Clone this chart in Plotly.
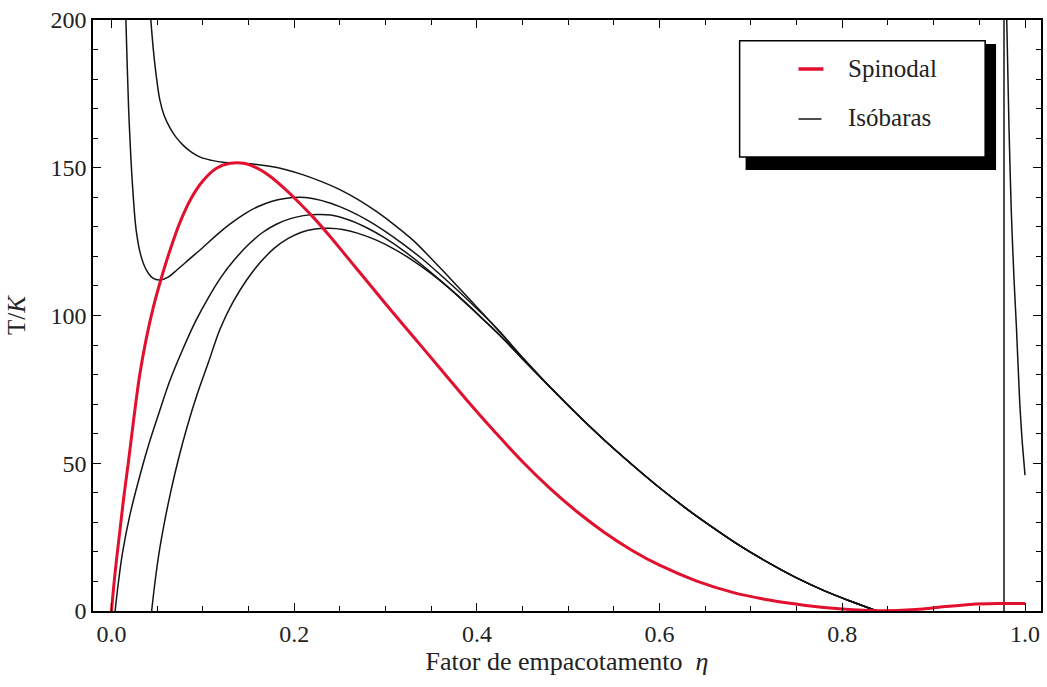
import plotly.graph_objects as go

# ---------------- data ----------------
# Spinodal curve (red)
eta_spinodal = [0.000, 0.004, 0.009, 0.0135, 0.0184, 0.024, 0.031, 0.038, 0.046, 0.054,
                0.064, 0.075, 0.087, 0.100, 0.115, 0.130, 0.145, 0.160, 0.175, 0.191,
                0.206, 0.221, 0.240, 0.260, 0.280, 0.300, 0.330, 0.360, 0.390, 0.420,
                0.450, 0.480, 0.510, 0.540, 0.570, 0.600, 0.640, 0.680, 0.720, 0.760,
                0.800, 0.840, 0.880, 0.910, 0.940, 0.970, 1.000]
T_spinodal = [0, 13, 26.5, 38.5, 50, 64, 80, 92, 103, 112,
              122, 131.5, 139.5, 145.5, 149.8, 151.5, 151.5, 149.8, 146.8, 142.5,
              138, 133.2, 126.5, 119, 111.5, 104, 93, 82, 71, 60.5,
              50.5, 41.5, 33.5, 26.5, 20.5, 15.5, 10.2, 6.3, 3.7, 1.9,
              0.7, 0.1, 0.5, 1.4, 2.2, 2.5, 2.5]

# shared tail of the isobars (curves merge for eta > ~0.48)
eta_tail = [0.48, 0.51, 0.54, 0.57, 0.60, 0.63, 0.66, 0.69, 0.72, 0.75, 0.78, 0.81, 0.838]
T_tail = [75.8, 66.5, 57.7, 49.5, 41.7, 34.5, 27.9, 21.7, 16.2, 11.2, 6.9, 3.2, 0]

# isobar A (highest, near-critical)
eta_iso_a = [0.0431, 0.0459, 0.0492, 0.0530, 0.0579, 0.0639, 0.0710, 0.0792, 0.0879, 0.0978,
             0.1098, 0.1240, 0.1404, 0.1567, 0.175, 0.190, 0.210, 0.230, 0.250, 0.270,
             0.290, 0.310, 0.330, 0.350, 0.370, 0.390, 0.410, 0.430, 0.450]
T_iso_a = [200, 189.8, 180.7, 172.9, 167.5, 163.6, 160.2, 157.4, 155.2, 153.5,
           152.5, 151.8, 151.5, 151.2, 150.4, 149.4, 147.6, 145.3, 142.6, 139.2,
           135.2, 130.6, 125.5, 119.3, 112.8, 106.2, 99.5, 92.7, 85.8]

# isobar B (loop with minimum)
eta_iso_b = [0.0158, 0.0172, 0.0188, 0.021, 0.0235, 0.027, 0.032, 0.038, 0.045, 0.053,
             0.062, 0.072, 0.085, 0.100, 0.115, 0.130, 0.148, 0.160, 0.175, 0.190,
             0.205, 0.220, 0.240, 0.260, 0.280, 0.300, 0.320, 0.340, 0.360, 0.380,
             0.400, 0.425, 0.450]
T_iso_b = [200, 185, 170, 155, 142, 129, 120.5, 115.5, 112.7, 112,
           113, 115.5, 119, 123, 127.2, 131, 134.8, 136.8, 138.6, 139.6,
           140, 139.6, 138, 135.5, 132.3, 128.4, 124, 119.2, 113.8, 108.2,
           102.3, 94.6, 85.6]

# isobar C
eta_iso_c = [0.004, 0.0075, 0.012, 0.0202, 0.030, 0.040, 0.052, 0.064, 0.078, 0.092,
             0.106, 0.120, 0.135, 0.150, 0.165, 0.180, 0.195, 0.210, 0.225, 0.240,
             0.260, 0.280, 0.300, 0.320, 0.340, 0.360, 0.380, 0.400, 0.425, 0.450]
T_iso_c = [0, 9.4, 19.5, 32.5, 44.5, 55.5, 67, 78, 88.5, 98,
           106, 113, 119, 124, 128, 130.8, 132.7, 133.8, 134.2, 134,
           132.3, 129.6, 126.1, 121.9, 117.1, 111.9, 106.4, 100.6, 93.4, 85.4]

# isobar D (lowest)
eta_iso_d = [0.044, 0.0475, 0.052, 0.058, 0.065, 0.073, 0.083, 0.094, 0.106, 0.119,
             0.133, 0.148, 0.163, 0.178, 0.193, 0.208, 0.223, 0.238, 0.253, 0.270,
             0.290, 0.310, 0.330, 0.350, 0.370, 0.390, 0.410, 0.430, 0.450]
T_iso_d = [0, 9.4, 19.5, 30, 40.5, 51, 62.5, 73.5, 84, 95.5,
           104.5, 112, 118, 122.7, 126, 128.2, 129.3, 129.5, 129.1, 127.8,
           125.5, 122.4, 118.6, 114.2, 109.2, 103.7, 97.8, 91.7, 85.2]

# branch near eta -> 1 (pole line and returning curve)
eta_pole_line = [0.977, 0.977]
T_pole_line = [0, 200]
eta_pole_curve = [0.980, 0.9825, 0.985, 0.988, 0.9906, 0.9943, 0.997, 1.0]
T_pole_curve = [200, 163, 135, 112, 96, 70, 57, 46]

x_ticks = [0.0, 0.2, 0.4, 0.6, 0.8, 1.0]
x_ticklabels = ["0.0", "0.2", "0.4", "0.6", "0.8", "1.0"]
y_ticks = [0, 50, 100, 150, 200]
y_ticklabels = ["0", "50", "100", "150", "200"]

legend_labels = ["Spinodal", "Isóbaras"]

# ---------------- figure ----------------
FONT = "Liberation Serif"
RED = "#E0102E"
BLACK = "#141414"
TXT = "#222222"

fig = go.Figure()

isobars = [
    (eta_iso_a + eta_tail, T_iso_a + T_tail),
    (eta_iso_b + eta_tail, T_iso_b + T_tail),
    (eta_iso_c + eta_tail, T_iso_c + T_tail),
    (eta_iso_d + eta_tail, T_iso_d + T_tail),
]
for ex, ty in isobars:
    fig.add_trace(go.Scatter(x=ex, y=ty, mode="lines", name="Isóbaras",
                             line=dict(color=BLACK, width=1.5, shape="spline", smoothing=1.0),
                             showlegend=False, hoverinfo="skip"))
fig.add_trace(go.Scatter(x=eta_pole_line, y=T_pole_line, mode="lines", name="Isóbaras",
                         line=dict(color=BLACK, width=1.5),
                         showlegend=False, hoverinfo="skip"))
fig.add_trace(go.Scatter(x=eta_pole_curve, y=T_pole_curve, mode="lines", name="Isóbaras",
                         line=dict(color=BLACK, width=1.5, shape="spline", smoothing=0.6),
                         showlegend=False, hoverinfo="skip"))
fig.add_trace(go.Scatter(x=eta_spinodal, y=T_spinodal, mode="lines", name="Spinodal",
                         line=dict(color=RED, width=3, shape="spline", smoothing=1.0),
                         showlegend=False, hoverinfo="skip"))

axis_common = dict(
    showline=True, mirror="ticks", linecolor="black", linewidth=1.5,
    ticks="inside", ticklen=8, tickwidth=1.2, tickcolor="black",
    showgrid=False, zeroline=False,
    tickfont=dict(family=FONT, size=24, color=TXT),
)

fig.update_xaxes(range=[-0.0202, 1.0175], tickvals=x_ticks, ticktext=x_ticklabels,
                 minor=dict(dtick=0.05, tick0=0, ticks="inside", ticklen=5,
                            tickcolor="black", tickwidth=1),
                 title=dict(text="Fator de empacotamento\u00a0\u00a0<i>η</i>",
                            font=dict(family=FONT, size=26, color=TXT), standoff=6),
                 **axis_common)
fig.update_yaxes(range=[0, 200], tickvals=y_ticks, ticktext=y_ticklabels,
                 minor=dict(dtick=10, tick0=0, ticks="inside", ticklen=5,
                            tickcolor="black", tickwidth=1),
                 title=dict(text="T/<i>K</i>",
                            font=dict(family=FONT, size=25, color=TXT), standoff=18),
                 **axis_common)

# ---- legend drawn as a framed box with drop shadow (paper coordinates) ----
shapes = [
    dict(type="rect", xref="paper", yref="paper", x0=0.6884, x1=0.9526, y0=0.7462, y1=0.9594,
         fillcolor="black", line=dict(width=0), layer="above"),
    dict(type="rect", xref="paper", yref="paper", x0=0.6821, x1=0.9411, y0=0.7682, y1=0.965,
         fillcolor="white", line=dict(color="black", width=1.5), layer="above"),
    dict(type="line", xref="paper", yref="paper", x0=0.7442, x1=0.7705, y0=0.9171, y1=0.9171,
         line=dict(color=RED, width=3.5), layer="above"),
    dict(type="line", xref="paper", yref="paper", x0=0.7442, x1=0.7684, y0=0.8325, y1=0.8325,
         line=dict(color=BLACK, width=1.5), layer="above"),
]
annotations = [
    dict(xref="paper", yref="paper", x=0.7947, y=0.9171, text=legend_labels[0],
         showarrow=False, xanchor="left", yanchor="middle",
         font=dict(family=FONT, size=25, color=TXT)),
    dict(xref="paper", yref="paper", x=0.7947, y=0.8342, text=legend_labels[1],
         showarrow=False, xanchor="left", yanchor="middle",
         font=dict(family=FONT, size=25, color=TXT)),
]

fig.update_layout(
    width=1047, height=687,
    margin=dict(l=93, r=4, t=20, b=76),
    paper_bgcolor="white", plot_bgcolor="white",
    shapes=shapes, annotations=annotations,
    showlegend=False,
)

fig.write_html("out.html")
